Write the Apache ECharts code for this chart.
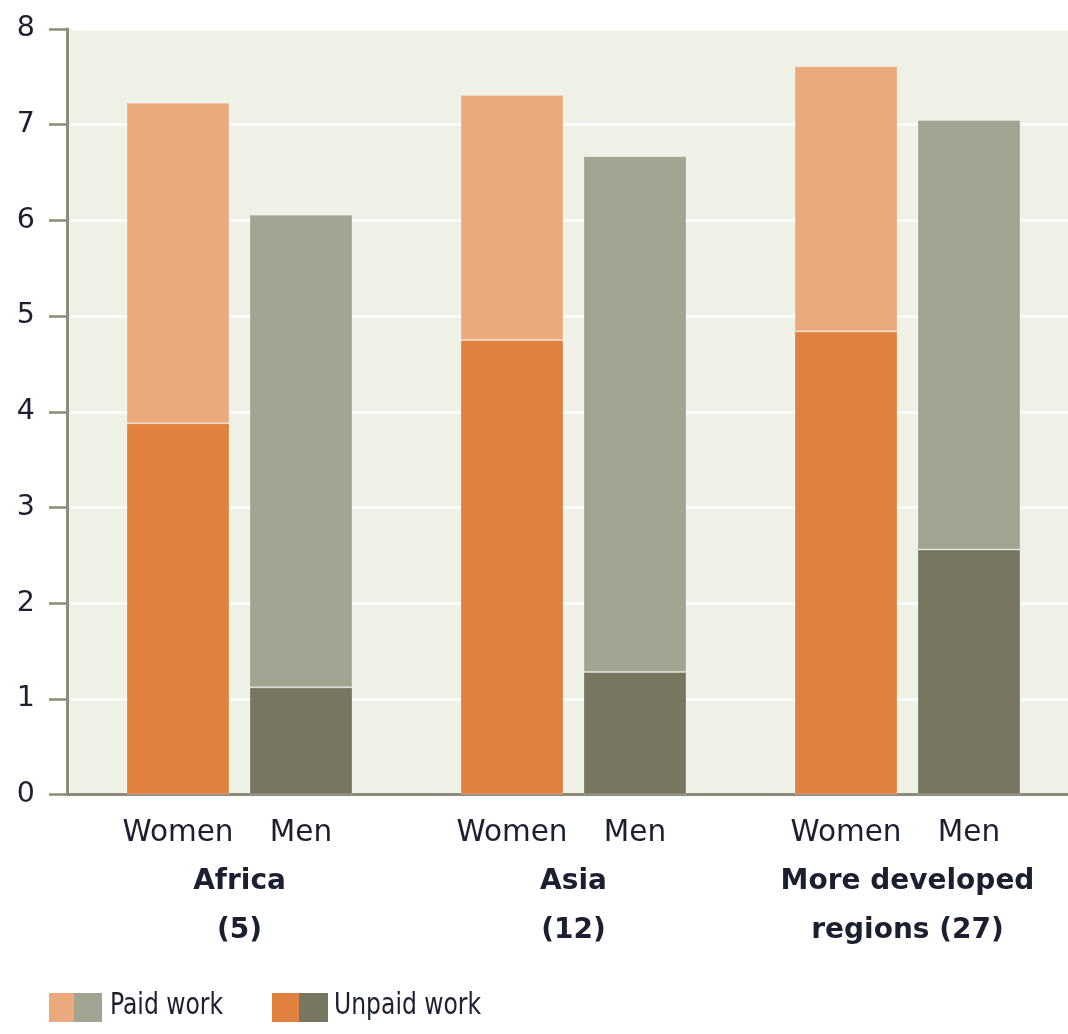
<!DOCTYPE html>
<html>
<head>
<meta charset="utf-8">
<script src="https://cdn.jsdelivr.net/npm/echarts@6/dist/echarts.min.js"></script>
<style>
  html, body { margin: 0; padding: 0; background: #ffffff; overflow: hidden; }
  /* the plot area runs slightly past the right edge of the page */
  #chart { width: 1080px; height: 1034px; }
</style>
</head>
<body>
<div id="chart"></div>
<script>
// Average hours per day spent on work, by sex and region
const regions = ['Africa\n(5)', 'Asia\n(12)', 'More developed\nregions (27)'];
const sexLabels = ['Women', 'Men'];
const womenUnpaid = [3.88, 4.75, 4.84];
const womenPaid = [3.35, 2.56, 2.77];
const menUnpaid = [1.12, 1.28, 2.56];
const menPaid = [4.94, 5.39, 4.49];
const yTicks = [0, 1, 2, 3, 4, 5, 6, 7, 8];
const legendNames = ['Paid work', 'Unpaid work'];

const colors = {
  womenPaid: '#ECAA7C',
  womenUnpaid: '#E08140',
  menPaid: '#A2A390',
  menUnpaid: '#777661'
};
const plotBg = '#EFF0E6';
const axisGrey = '#8C8B78';
const textColor = '#1c1f30';
const font = "'DejaVu Sans', sans-serif";
const narrowFont = "'DejaVu Sans Condensed', 'DejaVu Sans', sans-serif";

// plot frame (pixels)
const gridLeft = 72.5, gridWidth = 1002, gridTop = 29, gridHeight = 765.5, axisX = 67;

const chart = echarts.init(document.getElementById('chart'), null, { renderer: 'canvas' });

function barSeries(name, stack, data, color) {
  return {
    name: name,
    type: 'bar',
    stack: stack,
    data: data,
    barWidth: 103,
    barGap: '19.4%',
    itemStyle: {
      color: color,
      borderColor: 'rgba(255,255,255,0.25)',
      borderWidth: 1
    },
    emphasis: { disabled: true }
  };
}

const option = {
  animation: false,
  grid: {
    left: gridLeft,
    width: gridWidth,
    top: gridTop,
    height: gridHeight,
    show: true,
    backgroundColor: plotBg,
    borderWidth: 0
  },
  xAxis: {
    type: 'category',
    data: regions,
    axisLine: { show: true, lineStyle: { color: axisGrey, width: 3 } },
    axisTick: { show: false },
    axisLabel: {
      interval: 0,
      margin: 14,
      color: textColor,
      fontFamily: font,
      formatter: function (value) {
        const lines = value.split('\n').map(l => '{b|' + l + '}');
        return '{w|' + sexLabels[0] + '}{m|' + sexLabels[1] + '}\n' + lines.join('\n');
      },
      rich: {
        w: { width: 123, align: 'center', fontSize: 29.5, lineHeight: 49, fontFamily: font, color: textColor },
        m: { width: 123, align: 'center', fontSize: 29.5, lineHeight: 49, fontFamily: font, color: textColor },
        b: { fontSize: 28, fontWeight: 'bold', lineHeight: 49, fontFamily: font, color: textColor }
      }
    }
  },
  yAxis: {
    type: 'value',
    min: yTicks[0],
    max: yTicks[yTicks.length - 1],
    interval: 1,
    offset: gridLeft - axisX,
    axisLine: { show: true, lineStyle: { color: axisGrey, width: 3 } },
    axisTick: { show: true, length: 18, lineStyle: { color: axisGrey, width: 2.5 } },
    axisLabel: {
      margin: 32,
      fontSize: 28.5,
      fontFamily: font,
      color: textColor
    },
    splitLine: { show: true, lineStyle: { color: '#ffffff', width: 2.5 } }
  },
  series: [
    barSeries('Women unpaid', 'women', womenUnpaid, colors.womenUnpaid),
    barSeries('Women paid', 'women', womenPaid, colors.womenPaid),
    barSeries('Men unpaid', 'men', menUnpaid, colors.menUnpaid),
    barSeries('Men paid', 'men', menPaid, colors.menPaid)
  ],
  graphic: [
    // strip between the offset value axis and the plot area
    { type: 'rect', z: -1, left: axisX, top: gridTop, shape: { width: gridLeft - axisX + 1, height: gridHeight }, style: { fill: plotBg } },
    { type: 'line', z: 10, shape: { x1: axisX, y1: gridTop + gridHeight, x2: gridLeft + 2, y2: gridTop + gridHeight }, style: { stroke: axisGrey, lineWidth: 3 } },
    // legend: two-tone swatches for women/men, then the label
    { type: 'rect', left: 49, top: 993, shape: { width: 25, height: 29 }, style: { fill: colors.womenPaid } },
    { type: 'rect', left: 74, top: 993, shape: { width: 28, height: 29 }, style: { fill: colors.menPaid } },
    { type: 'text', x: 110, y: 991, scaleX: 0.87, style: { text: legendNames[0], fontSize: 30, fontFamily: narrowFont, fill: textColor } },
    { type: 'rect', left: 272, top: 993, shape: { width: 27, height: 29 }, style: { fill: colors.womenUnpaid } },
    { type: 'rect', left: 299, top: 993, shape: { width: 29, height: 29 }, style: { fill: colors.menUnpaid } },
    { type: 'text', x: 334, y: 991, scaleX: 0.87, style: { text: legendNames[1], fontSize: 30, fontFamily: narrowFont, fill: textColor } }
  ]
};

chart.setOption(option);
</script>
</body>
</html>
